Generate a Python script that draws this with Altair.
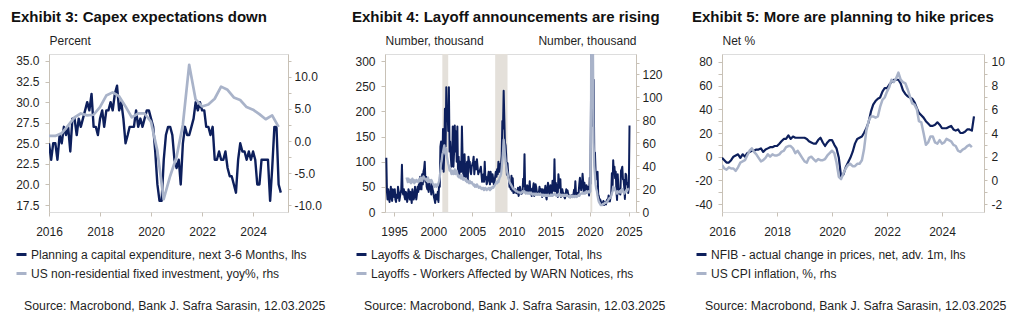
import altair as alt
import pandas as pd

NAVY = "#0d1f5c"
LIGHT = "#a9b3c9"
AXIS = "#c8c1b6"
SHADE = "#e4e0da"
TXT = "#1f1f1f"
FONT = "Liberation Sans"
SOURCE = "Source: Macrobond, Bank J. Safra Sarasin, 12.03.2025"

# ---------------- Exhibit 3 ----------------
capex_names = ["Planning a capital expenditure, next 3-6 Months, lhs",
               "US non-residential fixed investment, yoy%, rhs"]
# monthly, Jan 2016 - Feb 2025
capex_plans = [
    25, 23, 25, 25, 23, 26, 25, 27, 26, 27, 24, 28,
    28, 26, 28, 27, 28, 29, 30, 29, 31, 27, 27, 26,
    28, 29, 27, 29, 29, 30, 29, 31, 32, 29, 30, 28,
    25, 26, 27, 27, 27, 29, 27, 28, 27, 28, 29, 29,
    28, 27, 24, 20, 18, 18, 23, 26, 27, 27, 26, 23,
    22, 23, 20, 25, 27, 26, 26, 27, 28, 30, 29, 30,
    29, 29, 27, 27, 26, 27, 23, 23, 24, 23, 23, 24,
    22, 21, 21, 20, 19, 23, 25, 24, 24, 23, 24, 23,
    24, 23, 20, 20, 23, 23, 23, 23, 18, 22, 27, 27,
    20, 19,
]
# quarterly (quarter end), 2015Q4 - 2024Q4
nonres_inv_yoy = [
    0.8,
    0.8, 1.2, 2.4, 3.7,
    4.3, 4.0, 4.1, 5.3,
    7.1, 7.6, 7.0, 5.4,
    3.7, 4.3, 4.3, 3.0,
    -1.5, -9.1, -5.5, -2.5,
    2.5, 11.9, 6.5, 5.4,
    5.7, 6.6, 8.5, 8.0,
    6.8, 6.4, 5.3, 4.9,
    4.2, 3.4, 4.0, 2.2,
]

# ---------------- Exhibit 4 ----------------
layoff_names = ["Layoffs & Discharges, Challenger, Total, lhs",
                "Layoffs - Workers Affected by WARN Notices, rhs"]
# monthly, Jan 1994 - Feb 2025, thousands
challenger = [
    108, 40, 25, 45, 30, 20, 35, 50, 28, 22, 45, 38,
    30, 45, 25, 20, 35, 28, 50, 40, 22, 30, 38, 45,
    94, 40, 35, 45, 30, 25, 40, 35, 20, 30, 45, 40,
    25, 40, 30, 18, 45, 35, 25, 30, 50, 40, 25, 35,
    50, 40, 55, 45, 70, 60, 45, 75, 55, 80, 86, 100,
    60, 70, 50, 45, 55, 40, 60, 45, 50, 35, 60, 45,
    40, 30, 25, 18, 35, 30, 25, 40, 20, 60, 50, 130,
    140, 110, 86, 165, 80, 124, 205, 130, 248, 181, 200, 161,
    248, 120, 140, 110, 90, 100, 170, 90, 120, 172, 120, 160,
    100, 170, 80, 110, 70, 100, 90, 80, 170, 110, 75, 70,
    115, 80, 70, 90, 100, 60, 110, 100, 100, 80, 75, 90,
    95, 100, 110, 75, 90, 100, 85, 105, 90, 75, 80, 80,
    85, 90, 75, 60, 70, 75, 60, 100, 65, 70, 55, 60,
    70, 80, 65, 55, 80, 70, 60, 75, 65, 55, 60, 70,
    80, 70, 85, 75, 100, 80, 95, 80, 95, 112, 181, 166,
    241, 186, 138, 132, 111, 74, 97, 76, 67, 50, 50, 45,
    72, 42, 67, 38, 39, 39, 45, 38, 38, 37, 48, 32,
    38, 50, 41, 36, 37, 42, 66, 51, 115, 43, 42, 41,
    53, 51, 38, 40, 61, 37, 46, 32, 34, 47, 57, 32,
    40, 55, 49, 38, 36, 39, 38, 50, 40, 45, 45, 30,
    45, 41, 33, 40, 52, 31, 25, 47, 58, 51, 35, 32,
    53, 50, 36, 62, 42, 44, 105, 41, 58, 51, 36, 30,
    75, 61, 48, 65, 30, 38, 45, 38, 37, 30, 27, 33,
    45, 36, 43, 36, 33, 32, 29, 32, 33, 30, 31, 35,
    44, 35, 61, 36, 31, 38, 38, 38, 55, 68, 51, 43,
    52, 76, 61, 40, 58, 41, 38, 53, 42, 50, 44, 33,
    68, 56, 222, 671, 397, 171, 263, 116, 118, 81, 65, 78,
    80, 35, 31, 23, 25, 21, 18, 16, 18, 22, 14, 19,
    20, 15, 22, 25, 21, 33, 26, 21, 30, 34, 77, 43,
    103, 78, 90, 67, 80, 41, 24, 75, 48, 37, 46, 35,
    82, 85, 90, 65, 64, 49, 26, 76, 73, 55, 58, 38,
    50, 172,
]
# monthly, Aug 1996 - Jan 2025, thousands
warn = [
    30, 28, 26, 29, 27,
    26, 28, 25, 27, 29, 26, 28, 25, 27, 26, 28, 27,
    27, 26, 28, 29, 27, 30, 28, 27, 29, 31, 30, 29,
    29, 28, 27, 29, 30, 26, 28, 27, 26, 28, 27, 25,
    24, 23, 22, 24, 23, 22, 24, 23, 25, 27, 30, 36,
    42, 45, 50, 52, 55, 58, 52, 50, 55, 48, 45, 42,
    40, 36, 38, 35, 33, 36, 34, 33, 35, 37, 33, 34,
    36, 33, 31, 32, 30, 31, 30, 29, 32, 30, 28, 29,
    29, 28, 27, 28, 26, 27, 26, 25, 27, 26, 25, 26,
    25, 24, 23, 24, 22, 23, 22, 24, 23, 22, 21, 22,
    22, 21, 20, 21, 20, 21, 19, 20, 21, 20, 19, 20,
    20, 21, 20, 19, 21, 20, 21, 22, 21, 22, 23, 24,
    25, 26, 25, 27, 26, 28, 30, 31, 33, 38, 45, 52,
    63, 58, 50, 44, 40, 36, 33, 30, 28, 26, 25, 24,
    23, 22, 21, 20, 20, 19, 19, 18, 18, 18, 17, 17,
    17, 17, 16, 17, 17, 18, 17, 17, 18, 17, 16, 17,
    17, 16, 16, 17, 16, 16, 17, 16, 15, 16, 16, 15,
    16, 15, 16, 15, 15, 16, 15, 15, 16, 15, 15, 14,
    15, 14, 15, 14, 14, 15, 14, 14, 15, 14, 14, 14,
    15, 14, 15, 14, 15, 15, 16, 15, 15, 14, 15, 14,
    15, 16, 15, 14, 15, 14, 14, 15, 14, 14, 15, 14,
    14, 15, 14, 14, 13, 14, 14, 13, 14, 14, 13, 14,
    14, 13, 14, 14, 13, 14, 14, 15, 14, 15, 16, 16,
    16, 17, 16, 16, 17, 16, 17, 18, 17, 17, 18, 17,
    17, 18, 70, 320, 210, 140, 60, 40, 32, 24, 20, 18,
    14, 11, 9, 8, 7, 6, 6, 6, 7, 7, 7, 8,
    8, 8, 9, 9, 10, 11, 12, 12, 13, 14, 16, 18,
    22, 20, 21, 19, 18, 17, 16, 18, 17, 17, 18, 17,
    19, 18, 20, 18, 17, 16, 17, 18, 19, 18, 19, 20,
    20,
]
recession_start = ["2001-03-01", "2007-12-01", "2020-02-01"]
recession_end = ["2001-11-30", "2009-06-30", "2020-04-30"]

# ---------------- Exhibit 5 ----------------
price_names = ["NFIB - actual change in prices, net, adv. 1m, lhs",
               "US CPI inflation, %, rhs"]
# monthly, Jan 2016 - Mar 2025 (advanced 1 month)
nfib_prices = [
    -1, -3, -5, -5, -3, 0, 1, 2, -1, 2, 0, 3,
    4, 5, 5, 6, 6, 7, 4, 6, 7, 8, 8, 9,
    9, 11, 13, 15, 15, 18, 15, 17, 16, 16, 16, 16,
    16, 15, 13, 12, 11, 11, 14, 16, 12, 9, 12, 14,
    14, 10, 7, -1, -17, -15, -9, -5, -1, 4, 11, 15,
    16, 17, 20, 24, 29, 38, 44, 47, 49, 50, 55, 58,
    58, 61, 63, 65, 65, 65, 62, 56, 53, 51, 50, 49,
    46, 41, 37, 35, 33, 30, 28, 26, 26, 27, 29, 27,
    24, 24, 24, 25, 26, 23, 22, 23, 20, 20, 21, 23,
    23, 22, 34,
]
# monthly, Jan 2016 - Feb 2025
cpi_yoy = [
    1.3, 1.0, 0.9, 1.1, 1.0, 1.0, 0.8, 1.1, 1.5, 1.6, 1.7, 2.1,
    2.5, 2.7, 2.4, 2.2, 1.9, 1.6, 1.7, 1.9, 2.2, 2.0, 2.2, 2.1,
    2.1, 2.2, 2.4, 2.5, 2.8, 2.9, 2.9, 2.7, 2.3, 2.5, 2.2, 1.9,
    1.6, 1.5, 1.9, 2.0, 1.8, 1.6, 1.8, 1.7, 1.7, 1.8, 2.1, 2.3,
    2.5, 2.3, 1.5, 0.3, 0.1, 0.6, 1.0, 1.3, 1.4, 1.2, 1.2, 1.4,
    1.4, 1.7, 2.6, 4.2, 5.0, 5.4, 5.4, 5.3, 5.4, 6.2, 6.8, 7.0,
    7.5, 7.9, 8.5, 8.3, 8.6, 9.1, 8.5, 8.3, 8.2, 7.7, 7.1, 6.5,
    6.4, 6.0, 5.0, 4.9, 4.0, 3.0, 3.2, 3.7, 3.7, 3.2, 3.1, 3.4,
    3.1, 3.2, 3.5, 3.4, 3.3, 3.0, 2.9, 2.5, 2.4, 2.6, 2.7, 2.9,
    3.0, 2.8,
]


# ---------------- helpers ----------------
def monthly(start, values, name):
    return pd.DataFrame({"date": pd.date_range(start, periods=len(values), freq="MS"),
                         "value": values, "series": name})


def dt(y, m, d):
    return alt.DateTime(year=y, month=m, date=d)


def x_axis(years):
    return alt.Axis(values=[dt(y, 1, 1) for y in years], format="%Y", title=None,
                    grid=False, domain=False, ticks=True, tickColor=AXIS, tickSize=4,
                    labelPadding=10, labelFontSize=12, labelFont=FONT, labelColor=TXT,
                    labelFlush=False, labelOverlap=False)


def y_axis(orient, values, label_expr, title, tick_size, label_pad):
    kw = dict(orient=orient, values=values, labelExpr=label_expr, grid=False,
              domain=True, domainColor=AXIS, domainWidth=1, ticks=True, tickColor=AXIS,
              tickSize=tick_size, labelPadding=label_pad, labelFontSize=12,
              labelFont=FONT, labelColor=TXT)
    if title:
        kw.update(title=title, titleAngle=0, titleAlign="left" if orient == "left" else "right",
                  titleX=0, titleY=-14, titleBaseline="middle", titleFontSize=12,
                  titleFontWeight="normal", titleFont=FONT, titleColor=TXT)
    else:
        kw.update(title=None)
    return alt.Axis(**kw)


def legend(lx, ly):
    return alt.Legend(title=None, orient="none", legendX=lx, legendY=ly, direction="vertical",
                      symbolType="stroke", symbolStrokeWidth=3, symbolSize=100,
                      labelFontSize=12, labelFont=FONT, labelColor=TXT, labelOffset=3,
                      rowPadding=6, labelLimit=500, padding=0)


def fmt(spec):
    return f"replace(format(datum.value, '{spec}'), '\u2212', '-')"


def panel(title, tdx, df, names, xdom, xyears, width, ldom, laxis, rdom, raxis,
          lw, lgx, srcx, extra=None):
    color = alt.Color("series:N", scale=alt.Scale(domain=names, range=[NAVY, LIGHT]),
                      legend=legend(lgx, 194))
    x = alt.X("date:T", scale=alt.Scale(domain=xdom), axis=x_axis(xyears))
    base = alt.Chart(df)
    l1 = base.transform_filter(alt.datum.series == names[0]).mark_line(
        strokeWidth=lw, clip=True, strokeJoin="round").encode(
        x=x, y=alt.Y("value:Q", scale=alt.Scale(domain=ldom, nice=False, zero=False), axis=laxis),
        color=color)
    l2 = base.transform_filter(alt.datum.series == names[1]).mark_line(
        strokeWidth=lw + 0.3, clip=True, strokeJoin="round").encode(
        x=x, y=alt.Y("value:Q", scale=alt.Scale(domain=rdom, nice=False, zero=False), axis=raxis),
        color=color)
    src = alt.Chart(pd.DataFrame({"text": [SOURCE]})).mark_text(
        align="left", baseline="middle", fontSize=12.3, font=FONT, color=TXT).encode(
        text="text:N", x=alt.value(srcx), y=alt.value(252))
    layers = ([extra] if extra is not None else []) + [l1, l2, src]
    return alt.layer(*layers).resolve_scale(y="independent").properties(
        width=width, height=158,
        title=alt.TitleParams(title, anchor="start", frame="group", dx=tdx, fontSize=15,
                              fontWeight="bold", font=FONT, color="#111111", offset=9))


# Exhibit 3
df3 = pd.concat([
    monthly("2016-01-01", capex_plans, capex_names[0]),
    pd.DataFrame({"date": pd.date_range("2016-01-01", periods=len(nonres_inv_yoy), freq="3MS")
                  - pd.Timedelta(days=1), "value": nonres_inv_yoy, "series": capex_names[1]}),
])
p3 = panel("Exhibit 3: Capex expectations down", -38, df3, capex_names,
           [dt(2016, 1, 1), dt(2025, 5, 15)], [2016, 2018, 2020, 2022, 2024], 239,
           [16.65, 35.85],
           y_axis("left", [17.5 + 2.5 * i for i in range(8)], fmt(".1f"), "Percent", 4, 6),
           [-11.09, 13.59],
           y_axis("right", [-10 + 2.5 * i for i in range(10)],
                  f"datum.value % 5 == 0 ? {fmt('.1f')} : ''", None, 3, 3),
           2.4, -34, -25)

# Exhibit 4
df4 = pd.concat([monthly("1994-01-01", challenger, layoff_names[0]),
                 monthly("1996-08-01", warn, layoff_names[1])])
rec = alt.Chart(pd.DataFrame({"start": pd.to_datetime(recession_start),
                              "end": pd.to_datetime(recession_end)})).mark_rect(
    color=SHADE).encode(x="start:T", x2="end:T", y=alt.value(0), y2=alt.value(158))
p4 = panel("Exhibit 4: Layoff announcements are rising", -33, df4, layoff_names,
           [dt(1993, 11, 1), dt(2025, 12, 1)], [1995, 2000, 2005, 2010, 2015, 2020, 2025], 251,
           [0, 314],
           y_axis("left", [50 * i for i in range(7)], "format(datum.value, 'd')",
                  "Number, thousand", 4, 6),
           [0, 137.4],
           y_axis("right", [10 * i for i in range(14)],
                  "datum.value % 20 == 0 ? format(datum.value, 'd') : ''",
                  "Number, thousand", 3, 3),
           2.0, -30, -21, extra=rec)

# Exhibit 5
df5 = pd.concat([monthly("2016-01-01", nfib_prices, price_names[0]),
                 monthly("2016-01-01", cpi_yoy, price_names[1])])
p5 = panel("Exhibit 5: More are planning to hike prices", -30, df5, price_names,
           [dt(2016, 1, 1), dt(2025, 7, 12)], [2016, 2018, 2020, 2022, 2024], 262,
           [-46.76, 86.76],
           y_axis("left", [-40 + 10 * i for i in range(13)],
                  f"datum.value % 20 == 0 ? {fmt('d')} : ''", "Net %", 4, 6),
           [-2.676, 10.676],
           y_axis("right", [-2 + i for i in range(13)],
                  f"datum.value % 2 == 0 ? {fmt('d')} : ''", None, 3, 4),
           2.2, -27, -17)

chart = alt.hconcat(p3, p4, p5, spacing=25, bounds="full").resolve_scale(
    color="independent").properties(
    padding={"left": 10, "top": 9, "right": 5, "bottom": 5}
).configure_view(stroke=None).configure(font=FONT)

chart.save("out.html", embed_options={"renderer": "svg", "actions": False})
